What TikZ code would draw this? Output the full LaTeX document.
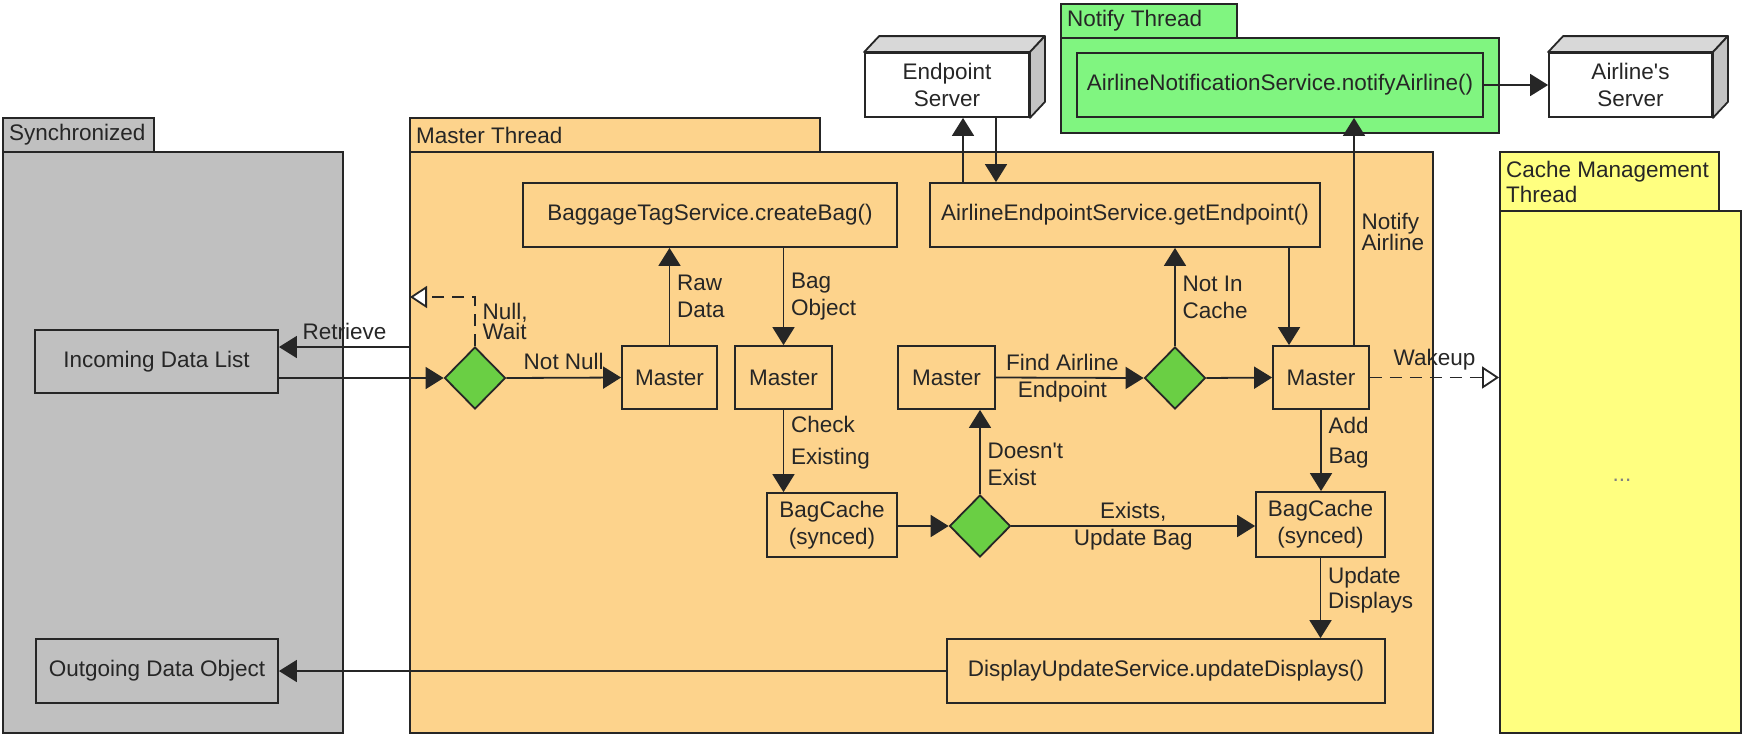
\documentclass[tikz,border=0pt]{standalone}
\usepackage{fontspec}
\newfontfamily\diagramfont{Liberation Sans}
\usetikzlibrary{arrows.meta,shapes.geometric,fit,calc}

\definecolor{syncgrey}{HTML}{C0C0C0}
\definecolor{masterorange}{HTML}{FDD38C}
\definecolor{notifygreen}{HTML}{80F580}
\definecolor{cacheyellow}{HTML}{FFFF80}
\definecolor{choicegreen}{HTML}{6ACF44}
\definecolor{cubetop}{HTML}{D8D8D8}
\definecolor{cubeside}{HTML}{C4C4C4}
\definecolor{inkdark}{HTML}{262626}

\tikzset{
  every node/.style={font=\diagramfont\fontsize{11.25}{13.5}\selectfont, text=inkdark},
  lead/.style={font=\diagramfont\fontsize{11.25}{#1}\selectfont},
  pkg/.style={draw=inkdark, line width=0.9pt, inner sep=0pt},
  box/.style={draw=inkdark, line width=0.9pt, inner sep=0pt, align=center,
    minimum height=32pt},
  choice/.style={diamond, draw=inkdark, fill=choicegreen, line width=0.9pt,
    inner sep=0pt, minimum width=30.5pt, minimum height=31pt},
  cubeface/.style={draw=inkdark, line width=0.9pt, line join=round},
  flow/.style={draw=inkdark, line width=0.9pt, -{Triangle[length=9pt,width=11pt]}},
  signal/.style={draw=inkdark, line width=0.9pt, dash pattern=on 6pt off 4pt,
    -{Triangle[open,length=8.5pt,width=11pt,fill=white]}},
}

% top and side faces of a server box
\newcommand{\servercube}[1]{%
  \draw[cubeface, fill=cubetop] (#1.north west) -- ++(15,-16) -- ($(#1.north east)+(15,-16)$) -- (#1.north east) -- cycle;
  \draw[cubeface, fill=cubeside] (#1.north east) -- ++(15,-16) -- ($(#1.south east)+(15,-16)$) -- (#1.south east) -- cycle;
}

\begin{document}
\begin{tikzpicture}[x=0.5pt,y=-0.5pt]
\useasboundingbox (0,0) rectangle (1743,735);

% packages
\node[pkg, fill=syncgrey, fit={(3,152) (343,733)}] (sync) {};
\node[pkg, fill=syncgrey, fit={(3,118) (154,152)}] (synctab) {};
\node[anchor=west] (synctxt) at (synctab.west) {Synchronized};

\node[pkg, fill=masterorange, fit={(410,152) (1433,733)}] (master) {};
\node[pkg, fill=masterorange, fit={(410,118) (820,152)}] (mastertab) {};
\node[anchor=west] (mastertxt) at (mastertab.west) {Master Thread};

\node[pkg, fill=notifygreen, fit={(1061,38) (1499,133)}] (notify) {};
\node[pkg, fill=notifygreen, fit={(1061,4) (1237,38)}] (notifytab) {};
\node[anchor=west] (notifytxt) at (notifytab.west) {Notify Thread};

\node[pkg, fill=cacheyellow, fit={(1500,211) (1741,733)}] (cache) {};
\node[pkg, fill=cacheyellow, fit={(1500,152) (1719,211)}] (cachetab) {};
\node[anchor=west, align=left, lead=12.5pt] (cachetxt) at (cachetab.west) {Cache Management\\Thread};
\node[text=gray] (cachedots) at (1622,480) {...};

% synchronized data
\node[box, fill=syncgrey, minimum width=121.5pt, minimum height=31.5pt] (indata) at (156.5,361.5) {Incoming Data List};
\node[box, fill=syncgrey, minimum width=121pt] (outdata) at (157,671) {Outgoing Data Object};

% master thread
\node[box, fill=masterorange, minimum width=187pt] (btag) at (710,215) {BaggageTagService.createBag()};
\node[box, fill=masterorange, minimum width=195pt] (gep) at (1125,215) {AirlineEndpointService.getEndpoint()};
\node[choice] (d1) at (475,378) {};
\node[box, fill=masterorange, minimum width=47.5pt, minimum height=31.5pt] (m1) at (669.5,377.5) {Master};
\node[box, fill=masterorange, minimum width=48.5pt, minimum height=31.5pt] (m2) at (783.5,377.5) {Master};
\node[box, fill=masterorange, minimum width=48.5pt, minimum height=31.5pt] (m4) at (946.5,377.5) {Master};
\node[choice] (d2) at (1175,378) {};
\node[box, fill=masterorange, minimum width=48pt, minimum height=31.5pt] (m3) at (1321,377.5) {Master};
\node[box, fill=masterorange, minimum width=65pt] (bc1) at (832,525) {BagCache\\(synced)};
\node[choice] (d3) at (980,526) {};
\node[box, fill=masterorange, minimum width=64.5pt, minimum height=32.5pt] (bc2) at (1320.5,524.5) {BagCache\\(synced)};
\node[box, fill=masterorange, minimum width=219pt] (dus) at (1166,671) {DisplayUpdateService.updateDisplays()};

% notify thread
\node[box, fill=notifygreen, minimum width=203pt] (notif) at (1280,85) {AirlineNotificationService.notifyAirline()};

% servers
\node[box, fill=white, minimum width=82pt] (eps) at (947,85) {Endpoint\\Server};
\servercube{eps}
\node[box, fill=white, minimum width=81.5pt] (als) at (1630.5,85) {Airline's\\Server};
\servercube{als}

% connectors
\coordinate (retrieveat) at (410,347);
\coordinate (waitat) at (410,297);
\draw[flow] (retrieveat) -- (retrieveat -| indata.east) node[midway, above] {Retrieve};
\draw[flow] (indata.east |- d1.west) -- (d1.west);
\draw[signal] (d1.north) |- (waitat) node[pos=0.25, right, align=left, lead=10pt] {Null,\\Wait};
\draw[flow] (d1.east) -- (m1.west) node[midway, above] {Not Null};
\draw[flow] (m1.north) -- (m1.north |- btag.south) node[midway, right, align=left] {Raw\\Data};
\draw[flow] (m2.north |- btag.south) -- (m2.north) node[midway, right, align=left] {Bag\\Object};
\draw[flow] (m2.south) -- (m2.south |- bc1.north) node[pos=0.4, right, align=left, lead=16pt] {Check\\Existing};
\draw[flow] (bc1.east |- d3.west) -- (d3.west);
\draw[flow] (d3.north) -- (d3.north |- m4.south) node[pos=0.35, right, align=left] {Doesn't\\Exist};
\draw[flow] (d3.east) -- (d3.east -| bc2.west) node[midway, align=center] {Exists,\\Update Bag};
\draw[flow] (m4.east) -- (d2.west) node[pos=0.45, align=center] {Find Airline\\Endpoint};
\draw[flow] (d2.north) -- (d2.north |- gep.south) node[midway, right, align=left] {Not In\\Cache};
\draw[flow] (d2.east) -- (m3.west);
\draw[flow] ([xshift=-16pt]m3.north |- gep.south) -- ([xshift=-16pt]m3.north);
\draw[flow] ([xshift=16.5pt]m3.north) -- ([xshift=16.5pt]m3.north |- notif.south) node[midway, right, align=left, lead=10.5pt] {Notify\\Airline};
\draw[signal] (m3.east) -- (m3.east -| cache.west) node[midway, above] {Wakeup};
\draw[flow] (m3.south) -- (m3.south |- bc2.north) node[pos=0.4, right, align=left, lead=15pt] {Add\\Bag};
\draw[flow] (bc2.south) -- (bc2.south |- dus.north) node[pos=0.4, right, align=left, lead=12.5pt] {Update\\Displays};
\draw[flow] (dus.west) -- (outdata.east);
\draw[flow] ([xshift=8pt]eps.south |- gep.north) -- ([xshift=8pt]eps.south);
\draw[flow] ([xshift=24.5pt]eps.south) -- ([xshift=24.5pt]eps.south |- gep.north);
\draw[flow] (notif.east) -- (als.west);

\end{tikzpicture}
\end{document}
